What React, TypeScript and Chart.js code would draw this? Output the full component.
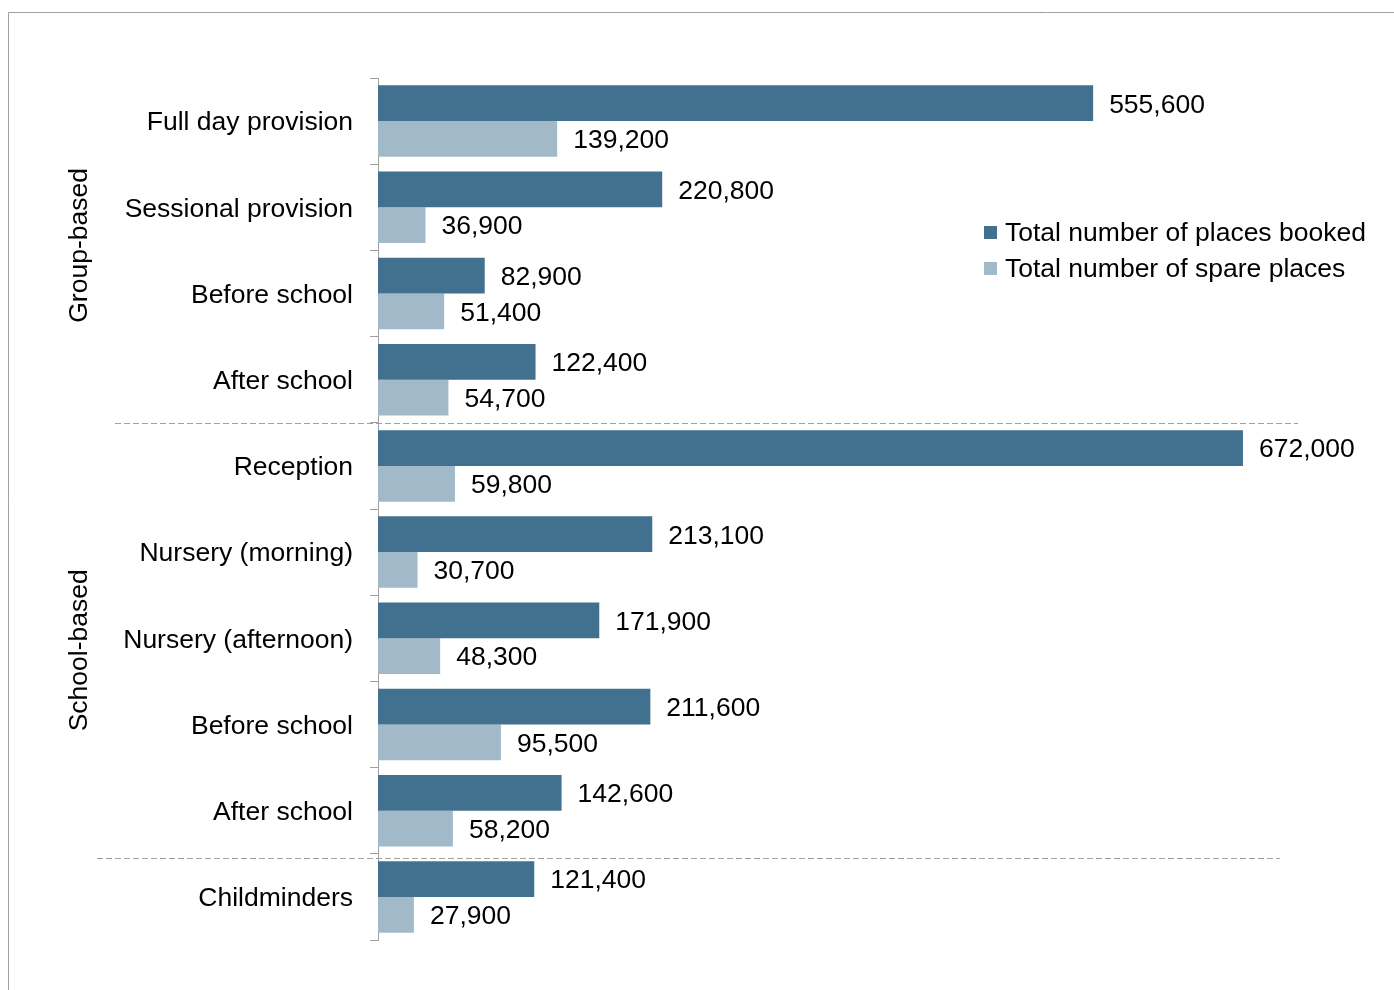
import React, { useEffect, useRef } from "react";
import { Chart, registerables } from "chart.js";

Chart.register(...registerables);

const categories = [
  "Full day provision",
  "Sessional provision",
  "Before school",
  "After school",
  "Reception",
  "Nursery (morning)",
  "Nursery (afternoon)",
  "Before school",
  "After school",
  "Childminders",
];
const placesBooked = [555600, 220800, 82900, 122400, 672000, 213100, 171900, 211600, 142600, 121400];
const sparePlaces = [139200, 36900, 51400, 54700, 59800, 30700, 48300, 95500, 58200, 27900];
const seriesNames = ["Total number of places booked", "Total number of spare places"];
const groupNames = ["Group-based", "School-based"];

const DARK = "#41718f";
const LIGHT = "#a2b9c9";
const FONT = "'Liberation Sans', Arial, sans-serif";
const FS = 26.5;

const overlay = {
  id: "overlay",
  afterDraw(chart: any) {
    const ctx = chart.ctx;
    const y = chart.scales.y;
    ctx.save();
    // outer frame
    ctx.strokeStyle = "#a0a0a0";
    ctx.lineWidth = 1;
    ctx.setLineDash([]);
    ctx.beginPath();
    ctx.moveTo(8.5, 990);
    ctx.lineTo(8.5, 12.5);
    ctx.lineTo(1394, 12.5);
    ctx.stroke();

    // dashed separators
    const b1 = (y.getPixelForValue(3) + y.getPixelForValue(4)) / 2;
    const b2 = (y.getPixelForValue(8) + y.getPixelForValue(9)) / 2 + 4;
    ctx.strokeStyle = "#a0a0a0";
    ctx.setLineDash([6, 3]);
    ctx.beginPath();
    ctx.moveTo(115, Math.round(b1) + 0.5);
    ctx.lineTo(1298, Math.round(b1) + 0.5);
    ctx.moveTo(97, Math.round(b2) + 0.5);
    ctx.lineTo(1280, Math.round(b2) + 0.5);
    ctx.stroke();
    ctx.setLineDash([]);

    ctx.fillStyle = "#000";
    ctx.font = `${FS}px ${FONT}`;

    // category labels
    ctx.textAlign = "right";
    ctx.textBaseline = "middle";
    categories.forEach((c, i) => {
      ctx.fillText(c, 353, y.getPixelForValue(i) + 2);
    });

    // group labels
    ctx.textAlign = "center";
    const g1 = (y.getPixelForValue(0) + y.getPixelForValue(3)) / 2 - 5;
    const g2 = (y.getPixelForValue(4) + y.getPixelForValue(8)) / 2 + 12;
    [[g1, groupNames[0]], [g2, groupNames[1]]].forEach(([cy, t]: any) => {
      ctx.save();
      ctx.translate(80, cy);
      ctx.rotate(-Math.PI / 2);
      ctx.fillText(t, 0, 0);
      ctx.restore();
    });

    // data labels
    ctx.textAlign = "left";
    chart.data.datasets.forEach((ds: any, di: number) => {
      const meta = chart.getDatasetMeta(di);
      meta.data.forEach((bar: any, i: number) => {
        const v = ds.data[i];
        ctx.fillText(v.toLocaleString("en-US"), bar.x + 16, bar.y + 2);
      });
    });

    // legend
    const legY = [232, 268];
    [DARK, LIGHT].forEach((c, i) => {
      ctx.fillStyle = c;
      ctx.fillRect(984, legY[i] - 6, 13, 13);
      ctx.fillStyle = "#000";
      ctx.fillText(seriesNames[i], 1005, legY[i] + 2);
    });
    ctx.restore();
  },
};

export default function App() {
  const ref = useRef<HTMLCanvasElement>(null);
  useEffect(() => {
    const chart = new Chart(ref.current as HTMLCanvasElement, {
      type: "bar",
      data: {
        labels: categories,
        datasets: [
          { label: seriesNames[0], data: placesBooked, backgroundColor: DARK, categoryPercentage: 0.83, barPercentage: 1.0 },
          { label: seriesNames[1], data: sparePlaces, backgroundColor: LIGHT, categoryPercentage: 0.83, barPercentage: 1.0 },
        ],
      },
      options: {
        indexAxis: "y",
        animation: false,
        responsive: false,
        maintainAspectRatio: false,
        layout: { padding: { top: 78, bottom: 50, right: 115, left: 0 } },
        plugins: { legend: { display: false }, tooltip: { enabled: false } },
        scales: {
          x: { display: false, min: 0, max: 700000 },
          y: {
            type: "category",
            afterFit: (s: any) => {
              s.width = 378;
            },
            grid: { drawOnChartArea: false, drawTicks: true, tickLength: 8, color: "#a0a0a0", offset: true },
            border: { display: true, color: "#a0a0a0", width: 1 },
            ticks: { display: false },
          },
        },
      },
      plugins: [overlay],
    });
    return () => chart.destroy();
  }, []);
  return (
    <div style={{ position: "absolute", left: 0, top: 0, width: 1394, height: 990 }}>
      <canvas ref={ref} width={1394} height={990} style={{ width: 1394, height: 990 }} />
    </div>
  );
}
